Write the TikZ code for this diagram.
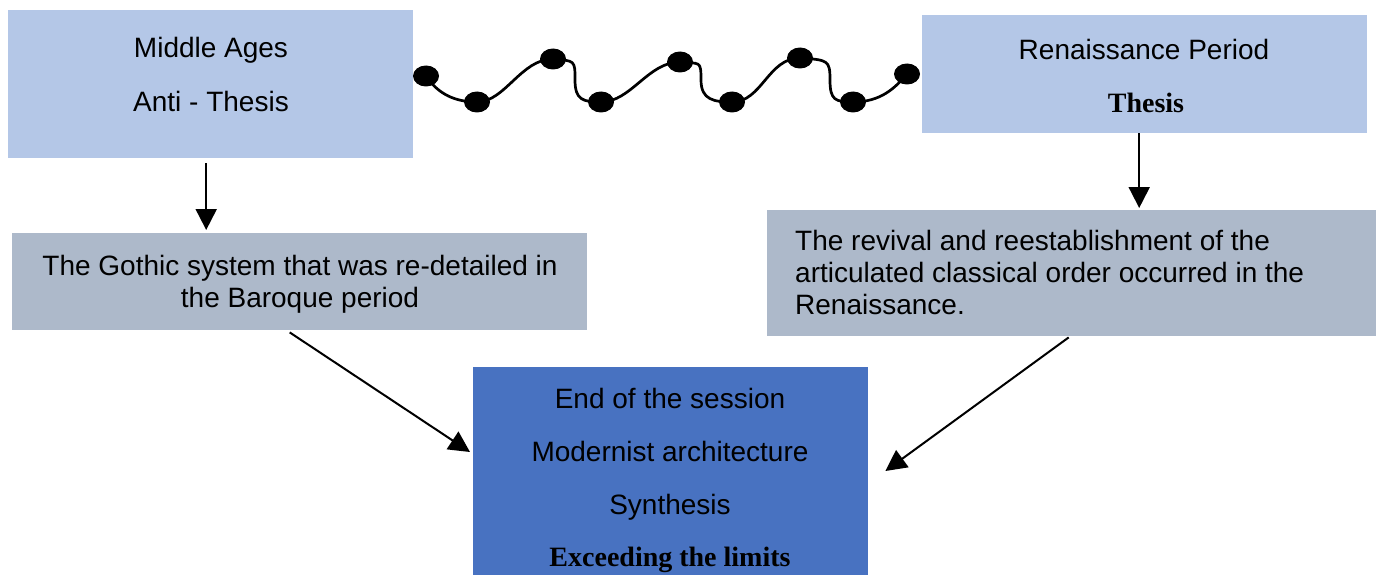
\documentclass[tikz,border=0pt]{standalone}
\usepackage{fontspec}
\setmainfont{Liberation Sans}
\newfontfamily\serifbold{Liberation Serif}
\usetikzlibrary{arrows.meta,shapes.geometric}
\definecolor{lightblue}{RGB}{180,199,231}
\definecolor{greyblue}{RGB}{173,185,202}
\definecolor{midblue}{RGB}{72,114,193}
\begin{document}
\begin{tikzpicture}[x=1pt,y=-1pt,
  box/.style={inner sep=0pt, anchor=north west, draw=none},
  txt/.style={font=\fontsize{28}{32}\selectfont, anchor=base, inner sep=0pt},
  boldtxt/.style={font=\serifbold\bfseries\fontsize{28}{32}\selectfont, anchor=base, inner sep=0pt},
  arr/.style={line width=2pt, -{Triangle[width=21pt,length=21pt]}},
  dot/.style={ellipse, fill=black, inner sep=0pt, minimum width=26pt, minimum height=21pt},
  wave/.style={line width=2.7pt}]
\useasboundingbox (0,0) rectangle (1380,575);
\clip (0,0) rectangle (1380,575);
\fill[white] (0,0) rectangle (1380,575);
% boxes
\node[box, fill=lightblue, minimum width=405pt, minimum height=148pt] (ma) at (8,10) {};
\node[box, fill=lightblue, minimum width=445pt, minimum height=118pt] (ren) at (922,15) {};
\node[box, fill=greyblue, minimum width=575pt, minimum height=97pt] (got) at (12,233) {};
\node[box, fill=greyblue, minimum width=609pt, minimum height=126pt] (rev) at (767,210) {};
\node[box, fill=midblue, minimum width=395pt, minimum height=230pt] (syn) at (473,367) {};
% texts
\node[txt] (t1) at (211,58) {Middle Ages};
\node[txt] (t2) at (211,111) {Anti - Thesis};
\node[txt] (t3) at (1144,60) {Renaissance Period};
\node[boldtxt] (t4) at (1146,113) {Thesis};
\node[txt] (t5) at (300,275) {The Gothic system that was re-detailed in};
\node[txt] (t6) at (300,307) {the Baroque period};
\node[txt, anchor=base west] (t7) at (795,250) {The revival and reestablishment of the};
\node[txt, anchor=base west] (t8) at (795,282) {articulated classical order occurred in the};
\node[txt, anchor=base west] (t9) at (795,314) {Renaissance.};
\node[txt] (t10) at (670,408) {End of the session};
\node[txt] (t11) at (670,461) {Modernist architecture};
\node[txt] (t12) at (670,514) {Synthesis};
\node[boldtxt] (t13) at (670,566) {Exceeding the limits};
% arrows
\draw[arr] ([xshift=-4.5pt,yshift=-5pt]ma.south) -- ([xshift=-4.5pt,yshift=3pt]ma.south |- got.north);
\draw[arr] ([xshift=-5.5pt]ren.south) -- ([xshift=-5.5pt,yshift=2pt]ren.south |- rev.north);
\draw[arr] ([xshift=-10pt,yshift=-2pt]got.south) -- ([shift={(-3,85)}]syn.north west);
\draw[arr] ([xshift=-3pt,yshift=-1pt]rev.south) -- ([shift={(17,104)}]syn.north east);
% wavy connector
\node[dot] (d1) at (426,76) {};
\node[dot] (d2) at (477,102) {};
\node[dot] (d3) at (553,59) {};
\node[dot] (d4) at (601,102) {};
\node[dot] (d5) at (680,62) {};
\node[dot] (d6) at (732,102) {};
\node[dot] (d7) at (800,58) {};
\node[dot] (d8) at (853,102) {};
\node[dot] (d9) at (907,74) {};
\draw[wave] (d1.center) .. controls +(12,18) and +(-22,0) .. (d2.center)
  .. controls +(28,0) and +(-32,0) .. (d3.center)
  .. controls +(22,2) and +(0,-20) .. (575,80)
  .. controls +(0,20) and +(-18,0) .. (d4.center)
  .. controls +(30,0) and +(-32,0) .. (d5.center)
  .. controls +(20,2) and +(0,-20) .. (701,80)
  .. controls +(0,20) and +(-18,0) .. (d6.center)
  .. controls +(30,0) and +(-32,0) .. (d7.center)
  .. controls +(28,2) and +(0,-20) .. (830,80)
  .. controls +(0,20) and +(-18,0) .. (d8.center)
  .. controls +(28,0) and +(-12,14) .. (d9.center);
\end{tikzpicture}
\end{document}
